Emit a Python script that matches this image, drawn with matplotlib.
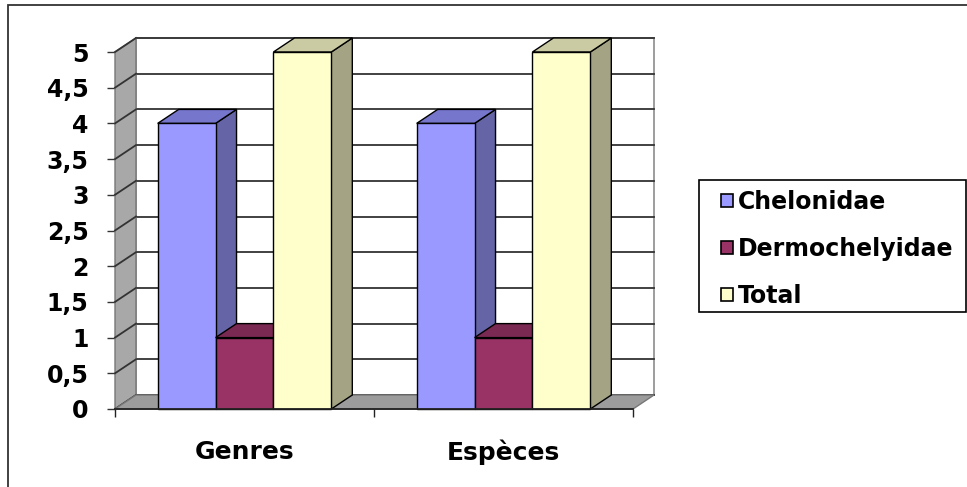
import numpy as np
import matplotlib.pyplot as plt
from matplotlib.patches import Polygon, Rectangle

categories = ["Genres", "Espèces"]
series_names = ["Chelonidae", "Dermochelyidae", "Total"]
chelonidae = [4, 4]
dermochelyidae = [1, 1]
total = [5, 5]
yticks = [0, 0.5, 1, 1.5, 2, 2.5, 3, 3.5, 4, 4.5, 5]
ytick_labels = ["0", "0,5", "1", "1,5", "2", "2,5", "3", "3,5", "4", "4,5", "5"]

front_colors = ["#9999ff", "#993366", "#ffffcc"]
top_colors = ["#7676cc", "#7a2952", "#cbcba3"]
side_colors = ["#6464a6", "#6a2345", "#a4a484"]

plt.rcParams['font.family'] = 'DejaVu Sans'
plt.rcParams['font.weight'] = 'bold'

fig = plt.figure(figsize=(9.67, 4.87), dpi=100)
ax = fig.add_axes([115/967, 78/487, 518/967, 357/487])
ax.set_xlim(0, 2)
ax.set_ylim(0, 5)

# oblique depth offset (data units)
dx, dy = 0.081, 0.196
ymax = yticks[-1]
ncat = len(categories)

# back wall
ax.add_patch(Polygon([(dx, dy), (ncat + dx, dy), (ncat + dx, ymax + dy), (dx, ymax + dy)],
                     closed=True, facecolor="white", edgecolor="#8c8c8c", lw=1.2, clip_on=False, zorder=1))
for v in yticks:
    ax.plot([dx, ncat + dx], [v + dy, v + dy], color="#333333", lw=1.3, clip_on=False, zorder=2)

# left wall
ax.add_patch(Polygon([(0, 0), (dx, dy), (dx, ymax + dy), (0, ymax)],
                     closed=True, facecolor="#a8a8a8", edgecolor="#777777", lw=1, clip_on=False, zorder=3))
for v in yticks:
    ax.plot([0, dx], [v, v + dy], color="#333333", lw=1.3, clip_on=False, zorder=4)

# floor
ax.add_patch(Polygon([(0, 0), (ncat, 0), (ncat + dx, dy), (dx, dy)],
                     closed=True, facecolor="#9c9c9c", edgecolor="#777777", lw=1, clip_on=False, zorder=5))

# bars
values = [chelonidae, dermochelyidae, total]
w = 0.2235
for i in range(ncat):
    for j, vals in enumerate(values):
        x0 = i + 0.5 - 1.5 * w + j * w
        h = vals[i]
        z = 10 + i * 5 + j
        side = [(x0 + w, 0), (x0 + w + dx, dy), (x0 + w + dx, h + dy), (x0 + w, h)]
        top = [(x0, h), (x0 + w, h), (x0 + w + dx, h + dy), (x0 + dx, h + dy)]
        ax.add_patch(Polygon(side, closed=True, facecolor=side_colors[j], edgecolor="black",
                             lw=1, clip_on=False, zorder=z))
        ax.add_patch(Polygon(top, closed=True, facecolor=top_colors[j], edgecolor="black",
                             lw=1, clip_on=False, zorder=z))
        ax.add_patch(Rectangle((x0, 0), w, h, facecolor=front_colors[j], edgecolor="black",
                               lw=1, clip_on=False, zorder=z + 0.5))

for s in ["top", "right", "left"]:
    ax.spines[s].set_visible(False)
ax.spines["bottom"].set_color("#222222")
ax.spines["bottom"].set_linewidth(1.3)
ax.spines["bottom"].set_zorder(30)

ax.set_yticks(yticks, ytick_labels)
ax.tick_params(axis="y", length=6, width=1, color="#333333", pad=13, labelsize=17)
ax.set_xticks(np.arange(ncat + 1))
ax.set_xticklabels([])
ax.tick_params(axis="x", which="major", length=6, width=1, color="#222222", direction="out")
ax.set_xticks(np.arange(ncat) + 0.5, minor=True)
ax.set_xticklabels(categories, minor=True)
ax.tick_params(axis="x", which="minor", length=0, pad=22, labelsize=18)

handles = [Rectangle((0, 0), 1, 1, facecolor=c, edgecolor="black", lw=1.2) for c in front_colors]
leg = fig.legend(handles, series_names, loc="center left", bbox_to_anchor=(721/967, 1 - 249/487),
                 fontsize=17, frameon=False, handlelength=0.5, handleheight=0.5,
                 handletextpad=0.2, labelspacing=0.97, borderpad=0, borderaxespad=0)

# legend box
fig.patches.append(Rectangle((699/967, 1 - 312/487), 267/967, 132/487, transform=fig.transFigure,
                             facecolor="none", edgecolor="black", lw=1.2))

# outer chart-area border
fig.patches.append(Rectangle((8/967, -0.5), 2, 0.5 + 482/487, transform=fig.transFigure,
                             facecolor="none", edgecolor="#333333", lw=1.3))

fig.savefig("out.png", dpi=100)
